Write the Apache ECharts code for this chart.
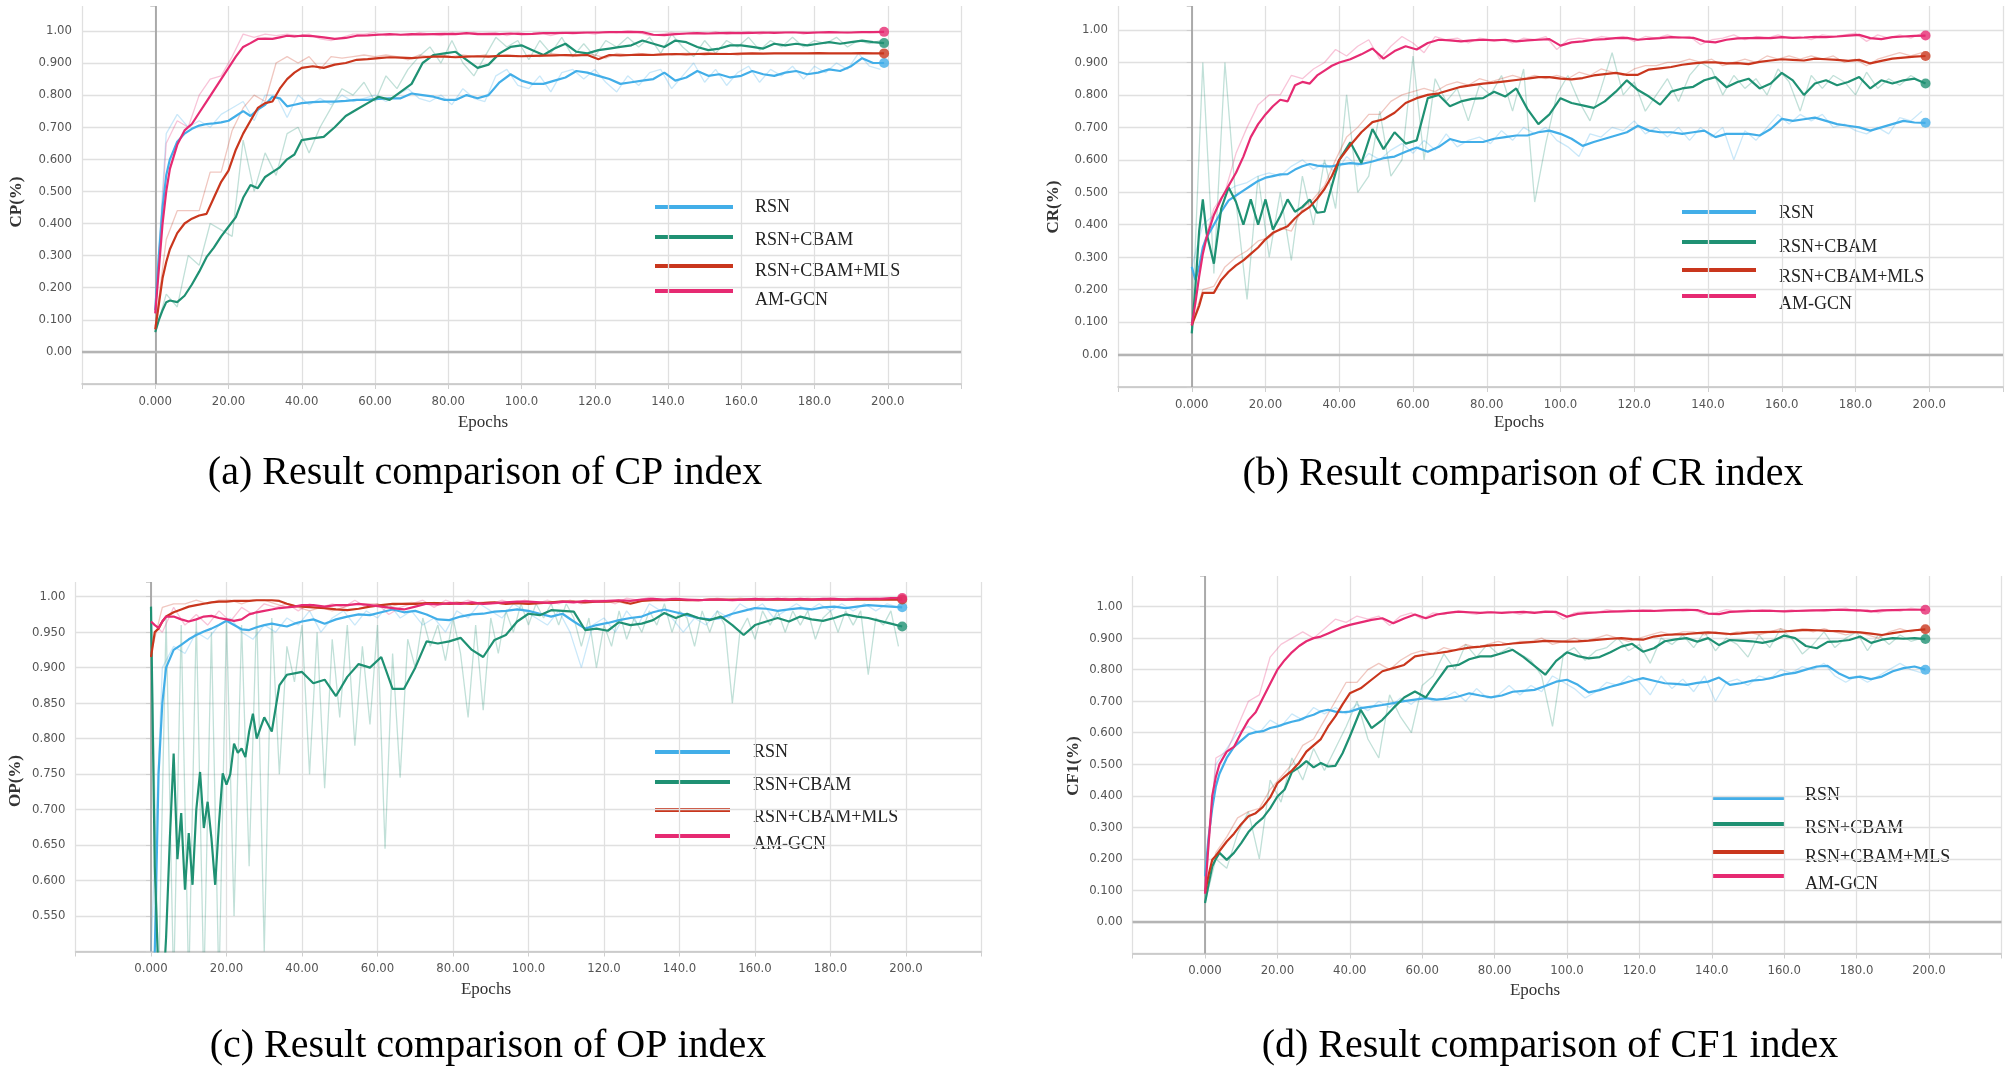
<!DOCTYPE html>
<html><head><meta charset="utf-8">
<script src="https://cdn.jsdelivr.net/npm/echarts@6/dist/echarts.min.js"></script>
<style>html,body{margin:0;padding:0;background:#fff}#c{width:2007px;height:1074px}</style>
</head><body><div id="c"></div>
<script>
// ---------------- DATA ----------------
const SERIES_NAMES = ['RSN', 'RSN+CBAM', 'RSN+CBAM+MLS', 'AM-GCN'];
const X_TICK_VALUES = [0,20,40,60,80,100,120,140,160,180,200];
const X_TICK_LABELS = ['0.000','20.00','40.00','60.00','80.00','100.0','120.0','140.0','160.0','180.0','200.0'];
const Y_TICK_VALUES = [0,0.1,0.2,0.3,0.4,0.5,0.6,0.7,0.8,0.9,1.0];
const Y_TICK_LABELS = ['0.00','0.100','0.200','0.300','0.400','0.500','0.600','0.700','0.800','0.900','1.00'];
const OP_TICK_VALUES = [0.55,0.6,0.65,0.7,0.75,0.8,0.85,0.9,0.95,1.0];
const OP_TICK_LABELS = ['0.550','0.600','0.650','0.700','0.750','0.800','0.850','0.900','0.950','1.00'];

// smoothed-curve epochs
const EPOCHS = [0,1,2,3,4,6,8,10,12,14,16,18,20,22,24,26,28,30,32,34,36,38,40,
43,46,49,52,55,58,61,64,67,70,73,76,79,82,85,88,91,94,97,100,103,106,109,112,115,118,121,124,127,130,
133,136,139,142,145,148,151,154,157,160,163,166,169,172,175,178,181,184,187,190,193,196,199];
// raw-curve epochs
const RAW_EPOCHS = [0,3,6,9,12,15,18,21,24,27,30,33,36,39,42,45,48,51,54,57,60,63,66,69,72,75,78,81,84,87,
90,93,96,99,102,105,108,111,114,117,120,123,126,129,132,135,138,141,144,147,150,153,156,159,162,165,168,171,
174,177,180,183,186,189,192,195,198];
const RAW_EPOCHS_2 = [0,2,4,6,8,10,12,14,16,18,20,22,24,26,28,30,32,34,36,38,40,42,44,46,48,50,52,54,56,58,
60,62,64,66,68,70,72,74,76,78,80,82,84,86,88,90,92,94,96,98,100,102,104,106,108,110,112,114,116,118,
120,122,124,126,128,130,132,134,136,138,140,142,144,146,148,150,152,154,156,158,160,162,164,166,168,170,
172,174,176,178,180,182,184,186,188,190,192,194,196,198];
const OP_CBAM_EPOCHS = [0,1,2,3,4,5,6,7,8,9,10,11,12,13,14,15,16,17,18,19,20,21,22,23,24,25,26,27,28,29,30,
32,34,36,38,40,43,46,49,52,55,58,61,64,67,70,73,76,79,82,85,88,91,94,97,100,103,106,109,112,115,118,121,124,127,130,
133,136,139,142,145,148,151,154,157,160,163,166,169,172,175,178,181,184,187,190,193,196,199];

// (a) CP
const CP_RSN = [0.13,0.30,0.45,0.55,0.60,0.655,0.68,0.695,0.705,0.71,0.712,0.715,0.72,0.735,0.75,0.735,0.755,0.77,0.795,0.79,0.765,0.77,0.775,
0.778,0.78,0.78,0.782,0.785,0.785,0.788,0.79,0.79,0.805,0.80,0.795,0.785,0.785,0.80,0.79,0.80,0.84,0.865,0.845,
0.835,0.835,0.845,0.855,0.875,0.87,0.86,0.85,0.835,0.84,0.845,0.85,0.87,0.845,0.855,0.875,0.86,0.865,0.855,0.86,
0.875,0.865,0.86,0.87,0.875,0.865,0.87,0.88,0.875,0.89,0.915,0.90,0.90];
const CP_CBAM = [0.062,0.10,0.13,0.155,0.16,0.155,0.175,0.21,0.25,0.295,0.325,0.36,0.39,0.42,0.48,0.52,0.51,0.545,0.56,0.575,0.60,0.615,0.66,
0.665,0.67,0.70,0.735,0.755,0.775,0.795,0.785,0.81,0.835,0.90,0.925,0.93,0.935,0.91,0.885,0.895,0.93,0.95,0.955,
0.94,0.925,0.945,0.96,0.935,0.93,0.94,0.945,0.95,0.955,0.97,0.96,0.95,0.97,0.965,0.95,0.94,0.945,0.955,0.955,
0.95,0.945,0.96,0.955,0.96,0.955,0.96,0.965,0.96,0.965,0.97,0.965,0.962];
const CP_MLS = [0.07,0.15,0.23,0.28,0.32,0.37,0.40,0.415,0.425,0.43,0.48,0.53,0.565,0.63,0.68,0.72,0.76,0.775,0.78,0.82,0.85,0.87,0.885,
0.89,0.885,0.895,0.90,0.91,0.912,0.915,0.918,0.917,0.915,0.918,0.92,0.92,0.918,0.92,0.921,0.92,0.922,0.922,0.921,
0.922,0.923,0.924,0.925,0.924,0.925,0.912,0.925,0.924,0.925,0.926,0.925,0.927,0.928,0.927,0.928,0.929,0.928,0.928,0.929,
0.93,0.929,0.93,0.93,0.93,0.93,0.931,0.93,0.93,0.93,0.931,0.93,0.93];
const CP_AMGCN = [0.12,0.26,0.40,0.50,0.57,0.645,0.69,0.71,0.745,0.78,0.815,0.85,0.885,0.92,0.95,0.962,0.975,0.976,0.975,0.98,0.985,0.983,0.985,
0.984,0.98,0.975,0.978,0.985,0.986,0.988,0.99,0.988,0.99,0.989,0.99,0.991,0.99,0.993,0.99,0.991,0.99,0.992,0.99,
0.991,0.993,0.993,0.994,0.994,0.995,0.995,0.996,0.996,0.997,0.996,0.988,0.987,0.99,0.992,0.993,0.992,0.993,0.994,0.993,
0.994,0.995,0.994,0.995,0.995,0.994,0.995,0.996,0.995,0.995,0.996,0.996,0.997];
const CP_RSN_RAW = [0.15,0.68,0.74,0.70,0.72,0.70,0.74,0.76,0.78,0.72,0.80,0.80,0.73,0.80,0.77,0.79,0.77,0.80,0.78,0.79,
0.80,0.78,0.80,0.82,0.79,0.78,0.80,0.77,0.82,0.79,0.78,0.86,0.88,0.83,0.82,0.86,0.81,0.87,0.88,0.85,
0.88,0.84,0.81,0.86,0.83,0.87,0.88,0.82,0.86,0.90,0.84,0.88,0.83,0.87,0.89,0.84,0.88,0.86,0.89,0.85,
0.89,0.87,0.90,0.88,0.93,0.89,0.88];
const CP_CBAM_RAW = [0.06,0.18,0.14,0.30,0.27,0.40,0.38,0.36,0.66,0.50,0.62,0.55,0.68,0.70,0.62,0.70,0.76,0.82,0.80,0.84,
0.78,0.86,0.82,0.88,0.92,0.95,0.90,0.97,0.90,0.86,0.92,0.98,0.95,0.97,0.91,0.97,0.93,0.98,0.92,0.96,
0.92,0.97,0.95,0.98,0.95,0.98,0.93,0.99,0.95,0.92,0.97,0.93,0.97,0.95,0.98,0.94,0.97,0.95,0.98,0.95,
0.97,0.96,0.98,0.95,0.97,0.96,0.97];
const CP_MLS_RAW = [0.08,0.35,0.44,0.44,0.44,0.56,0.56,0.69,0.76,0.80,0.78,0.90,0.92,0.90,0.92,0.88,0.92,0.915,0.92,0.925,
0.92,0.925,0.92,0.91,0.925,0.92,0.925,0.92,0.925,0.92,0.925,0.92,0.925,0.92,0.925,0.92,0.93,0.925,0.92,0.93,
0.925,0.915,0.93,0.925,0.93,0.925,0.93,0.925,0.93,0.93,0.925,0.93,0.93,0.925,0.93,0.93,0.93,0.93,0.93,0.93,
0.93,0.93,0.93,0.93,0.93,0.93,0.93];
const CP_AMGCN_RAW = [0.12,0.65,0.72,0.70,0.80,0.85,0.86,0.92,0.99,0.98,0.99,0.985,0.99,0.985,0.99,0.975,0.97,0.98,0.99,0.99,
0.995,0.985,0.99,0.985,0.995,0.99,0.985,0.995,0.99,0.995,0.99,0.995,0.985,0.995,0.99,0.995,0.985,0.995,0.99,0.995,
0.99,0.998,0.995,1.0,0.995,0.985,0.99,0.995,0.99,0.995,0.99,0.998,0.99,0.995,0.998,0.99,0.997,0.995,0.998,0.99,
0.997,0.995,0.998,0.993,0.998,0.995,0.998];

// (b) CR
const CR_RSN = [0.27,0.23,0.27,0.33,0.36,0.40,0.44,0.475,0.49,0.505,0.52,0.535,0.545,0.55,0.555,0.556,0.57,0.58,0.587,0.582,0.58,0.58,0.585,
0.59,0.587,0.595,0.605,0.61,0.625,0.638,0.625,0.64,0.664,0.655,0.655,0.655,0.665,0.67,0.675,0.675,0.685,0.69,0.68,
0.665,0.643,0.655,0.665,0.675,0.685,0.705,0.69,0.685,0.685,0.68,0.685,0.69,0.67,0.68,0.68,0.68,0.675,0.695,0.726,
0.72,0.725,0.73,0.72,0.71,0.705,0.70,0.69,0.70,0.71,0.72,0.715,0.714];
const CR_CBAM = [0.065,0.21,0.38,0.478,0.375,0.28,0.45,0.515,0.47,0.40,0.478,0.40,0.478,0.385,0.427,0.478,0.44,0.455,0.478,0.437,0.44,0.52,0.60,
0.654,0.59,0.695,0.633,0.685,0.65,0.66,0.79,0.80,0.765,0.78,0.788,0.79,0.81,0.795,0.82,0.757,0.71,0.74,0.79,
0.775,0.768,0.76,0.78,0.81,0.845,0.815,0.795,0.77,0.81,0.82,0.825,0.845,0.855,0.824,0.84,0.85,0.82,0.835,0.868,
0.845,0.80,0.835,0.845,0.83,0.84,0.855,0.82,0.845,0.835,0.845,0.85,0.835];
const CR_MLS = [0.09,0.12,0.15,0.19,0.19,0.19,0.23,0.255,0.275,0.29,0.31,0.33,0.355,0.375,0.385,0.395,0.42,0.44,0.455,0.48,0.51,0.55,0.60,
0.645,0.685,0.716,0.725,0.745,0.775,0.79,0.80,0.805,0.815,0.825,0.83,0.835,0.838,0.842,0.846,0.85,0.855,0.855,0.85,
0.848,0.852,0.86,0.864,0.868,0.862,0.862,0.878,0.882,0.886,0.893,0.897,0.90,0.90,0.897,0.898,0.895,0.902,0.906,0.91,
0.908,0.906,0.912,0.91,0.908,0.905,0.908,0.897,0.905,0.912,0.915,0.918,0.92];
const CR_AMGCN = [0.09,0.16,0.24,0.31,0.36,0.43,0.48,0.52,0.56,0.61,0.67,0.71,0.74,0.765,0.785,0.78,0.83,0.84,0.835,0.86,0.875,0.89,0.90,
0.91,0.925,0.943,0.912,0.935,0.95,0.94,0.96,0.97,0.968,0.965,0.968,0.97,0.968,0.97,0.965,0.968,0.97,0.972,0.952,
0.962,0.965,0.97,0.972,0.975,0.976,0.97,0.973,0.975,0.978,0.977,0.976,0.965,0.962,0.97,0.974,0.975,0.976,0.975,0.978,
0.976,0.977,0.979,0.978,0.98,0.983,0.985,0.975,0.972,0.978,0.98,0.982,0.983];
const CR_RSN_RAW = [0.27,0.40,0.43,0.50,0.52,0.53,0.55,0.56,0.55,0.58,0.60,0.57,0.59,0.56,0.61,0.58,0.62,0.60,0.63,0.65,
0.62,0.66,0.63,0.68,0.64,0.66,0.67,0.65,0.69,0.66,0.70,0.68,0.70,0.66,0.64,0.61,0.68,0.67,0.70,0.69,
0.72,0.68,0.70,0.67,0.70,0.66,0.70,0.67,0.70,0.60,0.69,0.66,0.70,0.74,0.71,0.74,0.72,0.74,0.70,0.71,
0.69,0.68,0.70,0.68,0.73,0.72,0.75];
const CR_CBAM_RAW = [0.07,0.90,0.25,0.90,0.47,0.17,0.55,0.30,0.50,0.29,0.55,0.40,0.60,0.45,0.80,0.50,0.55,0.75,0.55,0.60,
0.92,0.60,0.85,0.78,0.82,0.72,0.83,0.80,0.86,0.75,0.88,0.47,0.65,0.80,0.86,0.78,0.72,0.82,0.93,0.80,
0.84,0.75,0.80,0.85,0.78,0.86,0.90,0.88,0.80,0.86,0.82,0.85,0.80,0.88,0.84,0.75,0.86,0.82,0.86,0.84,
0.80,0.87,0.82,0.85,0.83,0.86,0.84];
const CR_MLS_RAW = [0.09,0.20,0.21,0.27,0.30,0.32,0.35,0.36,0.39,0.38,0.45,0.48,0.52,0.60,0.67,0.70,0.74,0.74,0.78,0.80,
0.81,0.82,0.81,0.83,0.84,0.83,0.85,0.84,0.85,0.86,0.85,0.86,0.85,0.86,0.85,0.87,0.86,0.88,0.87,0.86,
0.88,0.89,0.89,0.90,0.90,0.91,0.90,0.91,0.89,0.90,0.91,0.90,0.92,0.91,0.92,0.91,0.92,0.91,0.92,0.90,
0.91,0.89,0.91,0.92,0.93,0.92,0.93];
const CR_AMGCN_RAW = [0.09,0.33,0.45,0.50,0.62,0.70,0.77,0.80,0.80,0.86,0.85,0.88,0.90,0.94,0.92,0.95,0.97,0.91,0.95,0.98,
0.96,0.93,0.98,0.97,0.975,0.96,0.975,0.97,0.97,0.96,0.975,0.97,0.98,0.94,0.97,0.975,0.97,0.98,0.975,0.98,
0.965,0.98,0.975,0.985,0.975,0.98,0.955,0.97,0.975,0.985,0.97,0.98,0.975,0.985,0.975,0.98,0.97,0.985,0.98,0.985,
0.99,0.965,0.985,0.975,0.985,0.975,0.99];

// (c) OP
const OP_RSN = [0.30,0.50,0.75,0.85,0.90,0.925,0.932,0.94,0.946,0.951,0.955,0.96,0.966,0.96,0.954,0.953,0.957,0.96,0.962,0.96,0.958,0.962,0.965,
0.968,0.962,0.968,0.972,0.975,0.974,0.978,0.982,0.978,0.98,0.975,0.968,0.967,0.972,0.975,0.976,0.979,0.98,0.982,0.98,
0.976,0.972,0.976,0.965,0.955,0.96,0.963,0.967,0.97,0.972,0.978,0.982,0.978,0.974,0.97,0.968,0.97,0.976,0.98,0.984,
0.983,0.98,0.982,0.984,0.982,0.985,0.986,0.984,0.986,0.988,0.987,0.986,0.985];
const OP_CBAM = [0.986,0.62,0.46,0.42,0.52,0.66,0.779,0.63,0.695,0.587,0.667,0.594,0.70,0.753,0.674,0.711,0.66,0.594,0.68,0.751,0.735,
0.75,0.793,0.78,0.786,0.774,0.81,0.835,0.80,0.815,0.83,
0.81,0.875,0.89,0.892,0.894,
0.878,0.883,0.86,0.887,0.905,0.90,0.915,0.87,0.87,0.90,0.937,0.934,0.937,0.942,0.925,0.915,0.939,0.946,0.965,0.976,
0.974,0.981,0.98,0.979,0.953,0.955,0.952,0.964,0.96,0.962,0.967,0.977,0.97,0.976,0.97,0.967,0.972,0.96,0.946,0.96,
0.965,0.97,0.965,0.972,0.968,0.966,0.97,0.975,0.972,0.97,0.966,0.962,0.958];
const OP_MLS = [0.915,0.95,0.955,0.965,0.972,0.978,0.982,0.986,0.988,0.99,0.992,0.993,0.993,0.994,0.994,0.994,0.995,0.995,0.995,0.994,0.99,0.987,0.986,
0.985,0.984,0.982,0.981,0.983,0.986,0.988,0.99,0.99,0.99,0.991,0.991,0.99,0.991,0.99,0.991,0.992,0.99,0.991,0.99,
0.991,0.992,0.993,0.993,0.992,0.993,0.993,0.994,0.99,0.994,0.995,0.995,0.996,0.995,0.995,0.996,0.996,0.996,0.996,0.996,
0.996,0.996,0.996,0.996,0.996,0.996,0.996,0.996,0.996,0.996,0.996,0.996,0.996];
const OP_AMGCN = [0.965,0.96,0.956,0.965,0.972,0.972,0.968,0.965,0.968,0.972,0.973,0.97,0.968,0.966,0.968,0.975,0.978,0.98,0.982,0.984,0.985,0.986,0.988,
0.988,0.986,0.988,0.988,0.99,0.988,0.986,0.984,0.982,0.986,0.99,0.989,0.991,0.99,0.992,0.99,0.991,0.992,0.993,0.993,
0.992,0.991,0.993,0.992,0.994,0.993,0.994,0.995,0.994,0.996,0.997,0.996,0.997,0.996,0.995,0.996,0.996,0.995,0.996,0.997,
0.996,0.997,0.996,0.997,0.996,0.997,0.997,0.996,0.997,0.997,0.997,0.998,0.998];
const OP_RSN_RAW = [0.50,0.90,0.93,0.92,0.95,0.94,0.96,0.97,0.95,0.94,0.96,0.95,0.97,0.96,0.98,0.95,0.97,0.98,0.96,0.98,
0.97,0.99,0.97,0.98,0.96,0.97,0.95,0.98,0.97,0.99,0.98,0.97,0.99,0.98,0.97,0.96,0.98,0.95,0.90,0.96,
0.97,0.95,0.98,0.96,0.99,0.98,0.97,0.95,0.97,0.96,0.98,0.97,0.99,0.98,0.99,0.97,0.98,0.99,0.98,0.99,
0.98,0.99,0.98,0.99,0.98,0.99,0.985];
const OP_CBAM_RAW = [0.98,0.45,0.97,0.45,0.96,0.45,0.97,0.45,0.95,0.45,0.97,0.55,0.96,0.62,0.98,0.50,0.97,0.75,0.93,0.88,
0.96,0.75,0.95,0.73,0.94,0.83,0.96,0.79,0.93,0.82,0.96,0.645,0.92,0.745,0.94,0.90,0.97,0.93,0.96,0.91,
0.97,0.92,0.83,0.96,0.84,0.97,0.92,0.98,0.95,0.99,0.96,0.99,0.97,0.99,0.96,0.99,0.97,0.93,0.97,0.90,
0.96,0.93,0.98,0.94,0.97,0.95,0.98,0.96,0.99,0.95,0.98,0.97,0.93,0.98,0.95,0.98,0.96,0.85,0.95,0.97,
0.94,0.98,0.96,0.98,0.95,0.98,0.96,0.98,0.94,0.97,0.98,0.95,0.98,0.96,0.98,0.89,0.97,0.96,0.98,0.93];
const OP_MLS_RAW = [0.92,0.985,0.99,0.99,0.995,0.99,0.995,0.995,0.99,0.995,0.995,0.99,0.985,0.985,0.98,0.985,0.98,0.985,0.99,0.99,
0.99,0.985,0.99,0.992,0.99,0.992,0.99,0.993,0.99,0.992,0.993,0.99,0.992,0.99,0.993,0.992,0.994,0.993,0.992,0.994,
0.993,0.994,0.99,0.995,0.995,0.996,0.995,0.996,0.995,0.996,0.996,0.996,0.996,0.996,0.996,0.996,0.996,0.996,0.996,0.996,
0.996,0.996,0.996,0.996,0.996,0.996,0.996];
const OP_AMGCN_RAW = [0.965,0.95,0.985,0.96,0.975,0.96,0.98,0.965,0.985,0.975,0.99,0.985,0.99,0.98,0.99,0.985,0.99,0.985,0.995,0.985,
0.99,0.975,0.985,0.99,0.995,0.985,0.995,0.99,0.995,0.99,0.99,0.995,0.99,0.995,0.99,0.995,0.99,0.995,0.99,0.995,
0.995,0.99,0.998,0.995,0.999,0.995,0.998,0.995,0.997,0.995,0.998,0.995,0.998,0.996,0.998,0.996,0.998,0.996,0.998,0.996,
0.998,0.997,0.998,0.997,0.998,0.997,0.998];

// (d) CF1
const CF1_RSN = [0.145,0.27,0.36,0.43,0.47,0.52,0.555,0.575,0.595,0.602,0.605,0.615,0.62,0.628,0.635,0.64,0.65,0.657,0.668,0.673,0.667,0.665,0.667,
0.678,0.683,0.688,0.694,0.70,0.705,0.71,0.705,0.708,0.715,0.725,0.718,0.712,0.718,0.73,0.733,0.736,0.748,0.762,0.768,
0.752,0.728,0.735,0.746,0.755,0.765,0.773,0.765,0.757,0.755,0.752,0.758,0.762,0.775,0.752,0.757,0.765,0.768,0.775,0.785,
0.79,0.80,0.81,0.812,0.789,0.773,0.778,0.77,0.778,0.795,0.805,0.81,0.80];
const CF1_CBAM = [0.06,0.12,0.176,0.20,0.219,0.197,0.219,0.25,0.285,0.31,0.33,0.36,0.398,0.42,0.475,0.49,0.51,0.49,0.504,0.493,0.495,0.535,0.588,
0.673,0.615,0.641,0.678,0.712,0.731,0.712,0.762,0.81,0.815,0.833,0.842,0.842,0.852,0.863,0.84,0.812,0.784,0.828,0.855,
0.843,0.836,0.84,0.855,0.873,0.882,0.857,0.868,0.89,0.896,0.90,0.889,0.90,0.878,0.894,0.892,0.89,0.885,0.892,0.908,
0.90,0.875,0.868,0.888,0.89,0.894,0.905,0.885,0.895,0.90,0.898,0.90,0.897];
const CF1_MLS = [0.092,0.15,0.197,0.21,0.225,0.255,0.28,0.31,0.335,0.345,0.365,0.395,0.44,0.461,0.48,0.505,0.54,0.56,0.58,0.62,0.652,0.69,0.725,
0.741,0.768,0.795,0.805,0.815,0.842,0.848,0.852,0.857,0.864,0.87,0.873,0.877,0.879,0.883,0.886,0.888,0.891,0.89,0.889,
0.89,0.892,0.895,0.898,0.90,0.897,0.895,0.905,0.91,0.912,0.913,0.916,0.918,0.916,0.913,0.915,0.918,0.919,0.92,0.921,
0.924,0.926,0.925,0.923,0.922,0.92,0.918,0.914,0.91,0.916,0.921,0.925,0.928];
const CF1_AMGCN = [0.09,0.25,0.40,0.46,0.50,0.54,0.555,0.60,0.64,0.665,0.71,0.755,0.80,0.83,0.855,0.875,0.89,0.90,0.905,0.915,0.925,0.935,0.942,
0.95,0.958,0.963,0.947,0.962,0.975,0.963,0.975,0.98,0.984,0.982,0.98,0.982,0.98,0.982,0.983,0.98,0.984,0.983,0.968,
0.977,0.98,0.982,0.984,0.985,0.986,0.987,0.986,0.988,0.989,0.99,0.989,0.978,0.976,0.983,0.985,0.986,0.987,0.986,0.985,
0.986,0.987,0.988,0.989,0.99,0.989,0.988,0.985,0.988,0.989,0.99,0.99,0.99];
const CF1_RSN_RAW = [0.15,0.50,0.55,0.60,0.62,0.60,0.64,0.62,0.66,0.64,0.68,0.66,0.68,0.66,0.69,0.67,0.70,0.68,0.71,0.69,
0.72,0.70,0.71,0.73,0.70,0.74,0.71,0.72,0.75,0.72,0.75,0.73,0.78,0.76,0.74,0.71,0.73,0.76,0.75,0.78,
0.76,0.72,0.78,0.74,0.77,0.73,0.78,0.70,0.76,0.77,0.75,0.78,0.77,0.80,0.79,0.81,0.80,0.82,0.78,0.76,
0.78,0.76,0.78,0.80,0.82,0.80,0.79];
const CF1_CBAM_RAW = [0.06,0.20,0.17,0.28,0.35,0.20,0.45,0.38,0.52,0.45,0.55,0.48,0.55,0.62,0.70,0.58,0.52,0.72,0.65,0.60,
0.75,0.78,0.85,0.80,0.88,0.84,0.88,0.85,0.87,0.85,0.83,0.78,0.62,0.85,0.87,0.83,0.86,0.87,0.90,0.86,
0.88,0.82,0.90,0.88,0.91,0.87,0.92,0.86,0.90,0.88,0.84,0.91,0.87,0.93,0.90,0.85,0.88,0.92,0.87,0.90,
0.92,0.86,0.91,0.88,0.91,0.89,0.90];
const CF1_MLS_RAW = [0.09,0.22,0.27,0.33,0.35,0.36,0.42,0.46,0.50,0.56,0.58,0.64,0.70,0.76,0.76,0.80,0.82,0.80,0.83,0.85,
0.86,0.85,0.87,0.86,0.88,0.87,0.88,0.89,0.88,0.89,0.89,0.90,0.88,0.89,0.90,0.89,0.90,0.91,0.90,0.89,
0.90,0.91,0.92,0.91,0.92,0.92,0.91,0.92,0.91,0.92,0.92,0.91,0.92,0.93,0.92,0.93,0.92,0.93,0.92,0.91,
0.92,0.91,0.90,0.92,0.93,0.92,0.93];
const CF1_AMGCN_RAW = [0.09,0.52,0.54,0.62,0.70,0.72,0.84,0.88,0.90,0.92,0.90,0.93,0.96,0.95,0.97,0.96,0.97,0.94,0.97,0.98,
0.96,0.98,0.975,0.985,0.98,0.975,0.985,0.98,0.985,0.975,0.985,0.98,0.985,0.96,0.98,0.985,0.98,0.99,0.985,0.99,
0.985,0.99,0.985,0.99,0.985,0.99,0.975,0.98,0.99,0.985,0.99,0.985,0.99,0.985,0.99,0.985,0.99,0.985,0.99,0.995,
0.985,0.99,0.98,0.99,0.985,0.995,0.99];

// ---------------- STYLE / LAYOUT ----------------
const COLORS = ['#42aee8', '#1f9173', '#c9361d', '#e62a72'];
const TICK_FONT = '"DejaVu Sans Condensed","Liberation Sans Narrow","Arial Narrow",sans-serif';
const SERIF = '"Liberation Serif","Times New Roman",serif';

const PANELS = [
  { grid:{left:82, top:6, width:879, height:378}, yMin:-0.1, yMax:1.0776, yInt:0.1, op:false,
    yName:'CP(%)', yNameXY:[17,202], epochsXY:[483,423], caption:'(a) Result comparison of CP index', capXY:[485,473],
    legLineX:[655,733], legLineY:[207,237,266,291], legTextX:755, legTextY:[207,240,271,300],
    smooth:[[EPOCHS,CP_RSN],[EPOCHS,CP_CBAM],[EPOCHS,CP_MLS],[EPOCHS,CP_AMGCN]],
    raw:[[RAW_EPOCHS,CP_RSN_RAW],[RAW_EPOCHS,CP_CBAM_RAW],[RAW_EPOCHS,CP_MLS_RAW],[RAW_EPOCHS,CP_AMGCN_RAW]] },
  { grid:{left:1118, top:6, width:885, height:381}, yMin:-0.1, yMax:1.074, yInt:0.1, op:false,
    yName:'CR(%)', yNameXY:[1054,207], epochsXY:[1519,423], caption:'(b) Result comparison of CR index', capXY:[1523,474],
    legLineX:[1682,1756], legLineY:[212,242,270,296], legTextX:1779, legTextY:[213,247,277,304],
    smooth:[[EPOCHS,CR_RSN],[EPOCHS,CR_CBAM],[EPOCHS,CR_MLS],[EPOCHS,CR_AMGCN]],
    raw:[[RAW_EPOCHS,CR_RSN_RAW],[RAW_EPOCHS,CR_CBAM_RAW],[RAW_EPOCHS,CR_MLS_RAW],[RAW_EPOCHS,CR_AMGCN_RAW]] },
  { grid:{left:75.5, top:582, width:906, height:369.5}, yMin:0.5, yMax:1.0207, yInt:0.05, op:true,
    yName:'OP(%)', yNameXY:[16,781], epochsXY:[486,990], caption:'(c) Result comparison of OP index', capXY:[488,1046],
    legLineX:[655,730], legLineY:[752,782,810,836], legTextX:753, legTextY:[752,785,817,844],
    smooth:[[EPOCHS,OP_RSN],[OP_CBAM_EPOCHS,OP_CBAM],[EPOCHS,OP_MLS],[EPOCHS,OP_AMGCN]],
    raw:[[RAW_EPOCHS,OP_RSN_RAW],[RAW_EPOCHS_2,OP_CBAM_RAW],[RAW_EPOCHS,OP_MLS_RAW],[RAW_EPOCHS,OP_AMGCN_RAW]] },
  { grid:{left:1132.6, top:576, width:868.8, height:377.5}, yMin:-0.1, yMax:1.097, yInt:0.1, op:false,
    yName:'CF1(%)', yNameXY:[1074,766], epochsXY:[1535,991], caption:'(d) Result comparison of CF1 index', capXY:[1550,1046],
    legLineX:[1712,1784], legLineY:[798,824,852,876], legTextX:1805, legTextY:[795,828,857,884],
    smooth:[[EPOCHS,CF1_RSN],[EPOCHS,CF1_CBAM],[EPOCHS,CF1_MLS],[EPOCHS,CF1_AMGCN]],
    raw:[[RAW_EPOCHS,CF1_RSN_RAW],[RAW_EPOCHS,CF1_CBAM_RAW],[RAW_EPOCHS,CF1_MLS_RAW],[RAW_EPOCHS,CF1_AMGCN_RAW]] }
];

function labelMap(vals, labs) { const m = {}; vals.forEach((v,i)=>{ m[Math.round(v*1000)] = labs[i]; }); return m; }
const X_MAP = labelMap(X_TICK_VALUES, X_TICK_LABELS);
const Y_MAP = labelMap(Y_TICK_VALUES, Y_TICK_LABELS);
const OP_MAP = labelMap(OP_TICK_VALUES, OP_TICK_LABELS);
const pairs = (xs, ys) => xs.map((x,i)=>[x, ys[i]]);

const grids = [], xAxes = [], yAxes = [], series = [], graphics = [];
PANELS.forEach((p, pi) => {
  grids.push(Object.assign({containLabel:false}, p.grid));
  xAxes.push({ type:'value', gridIndex:pi, min:-20, max:220, interval:20,
    axisLine:{show:true, onZero:false, lineStyle:{color:'#c4c4c4', width:1.5}},
    axisTick:{show:true, length:5, lineStyle:{color:'#cfcfcf'}},
    axisLabel:{margin:11, fontFamily:TICK_FONT, fontSize:13, color:'#555',
      formatter:(v)=> X_MAP[Math.round(v*1000)] || ''},
    splitLine:{show:true, lineStyle:{color:'#e0e0e0', width:1.3}} });
  const ymap = p.op ? OP_MAP : Y_MAP;
  yAxes.push({ type:'value', gridIndex:pi, min:p.yMin, max:p.yMax, interval:p.yInt,
    axisLine:{show:false}, axisTick:{show:true, length:5, lineStyle:{color:'#cfcfcf'}},
    axisLabel:{margin:10, fontFamily:TICK_FONT, fontSize:13, color:'#555',
      formatter:(v)=> ymap[Math.round(v*1000)] || ''},
    splitLine:{show:true, showMaxLine:false, lineStyle:{color:'#e0e0e0', width:1.3}} });

  const zeroLines = [{xAxis:0, lineStyle:{color:'#9c9c9c', width:1.6, type:'solid'}}];
  if (!p.op) zeroLines.push({yAxis:0, lineStyle:{color:'#b4b4b4', width:2.4, type:'solid'}});

  p.raw.forEach((r, si) => {
    const s = { type:'line', name:SERIES_NAMES[si]+' raw', xAxisIndex:pi, yAxisIndex:pi, data:pairs(r[0], r[1]),
      symbol:'none', showSymbol:false, silent:true, z:2,
      lineStyle:{color:COLORS[si], width:1.3, opacity:0.28} };
    if (si === 0) s.markLine = { silent:true, symbol:['none','none'], label:{show:false}, animation:false, z:1, data:zeroLines };
    series.push(s);
  });
  p.smooth.forEach((r, si) => {
    series.push({ type:'line', name:SERIES_NAMES[si], xAxisIndex:pi, yAxisIndex:pi, data:pairs(r[0], r[1]),
      symbol:'none', showSymbol:false, silent:true, z:3,
      lineStyle:{color:COLORS[si], width:2.2} });
  });
  p.smooth.forEach((r, si) => {
    const n = r[0].length - 1;
    series.push({ type:'scatter', xAxisIndex:pi, yAxisIndex:pi, data:[[r[0][n], r[1][n]]],
      symbol:'circle', symbolSize:10, silent:true, z:4, itemStyle:{color:COLORS[si]} });
  });

  graphics.push({ type:'text', x:p.yNameXY[0], y:p.yNameXY[1], rotation:Math.PI/2,
    style:{ text:p.yName, font:'bold 17px '+SERIF, fill:'#333', align:'center', verticalAlign:'middle', textAlign:'center', textVerticalAlign:'middle' } });
  graphics.push({ type:'text', x:p.epochsXY[0], y:p.epochsXY[1],
    style:{ text:'Epochs', font:'17px '+SERIF, fill:'#333', align:'center', verticalAlign:'middle', textAlign:'center', textVerticalAlign:'middle' } });
  graphics.push({ type:'text', x:p.capXY[0], y:p.capXY[1],
    style:{ text:p.caption, font:'40px '+SERIF, fill:'#000', align:'center', verticalAlign:'middle', textAlign:'center', textVerticalAlign:'middle' } });
  SERIES_NAMES.forEach((nm, si) => {
    graphics.push({ type:'line', shape:{x1:p.legLineX[0], y1:p.legLineY[si], x2:p.legLineX[1], y2:p.legLineY[si]},
      style:{ stroke:COLORS[si], lineWidth:4 } });
    graphics.push({ type:'text', x:p.legTextX, y:p.legTextY[si],
      style:{ text:nm, font:'18px '+SERIF, fill:'#222', align:'left', verticalAlign:'middle', textAlign:'left', textVerticalAlign:'middle' } });
  });
});

const chart = echarts.init(document.getElementById('c'), null, {renderer:'canvas', width:2007, height:1074});
chart.setOption({
  backgroundColor:'#ffffff',
  animation:false,
  grid:grids, xAxis:xAxes, yAxis:yAxes, series:series,
  graphic:{ elements:graphics }
});
</script>
</body></html>
